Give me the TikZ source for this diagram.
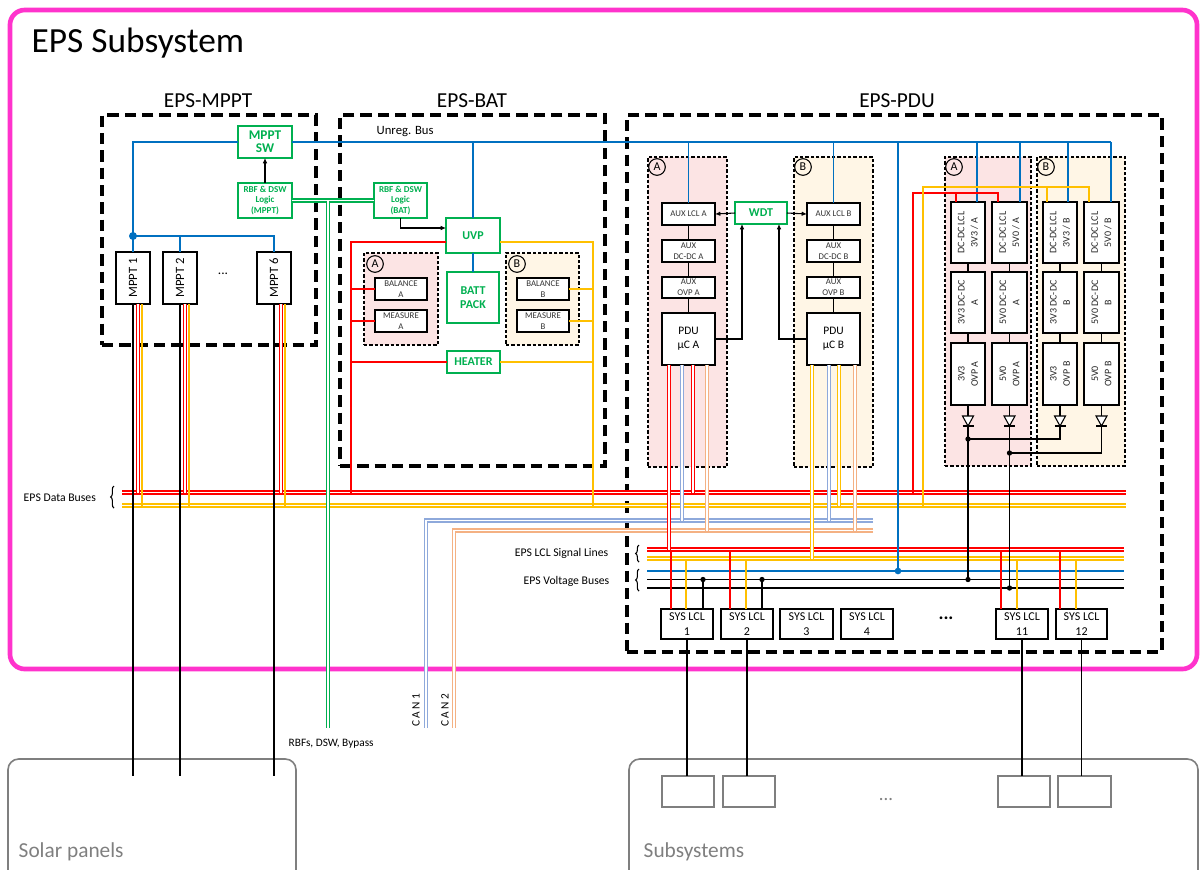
\documentclass[tikz,border=0pt]{standalone}
\usepackage{fontspec}
\setmainfont{Carlito}
\usetikzlibrary{arrows.meta,decorations.pathreplacing,calc}
\definecolor{cred}{HTML}{FF0000}
\definecolor{cyel}{HTML}{FFC000}
\definecolor{cblue}{HTML}{0070C0}
\definecolor{cgreen}{HTML}{00B050}
\definecolor{clb}{HTML}{8EA9DB}
\definecolor{cor}{HTML}{F4B183}
\definecolor{cmag}{HTML}{FF33CC}
\definecolor{cpink}{HTML}{FCE4E4}
\definecolor{ccream}{HTML}{FFF6E6}
\definecolor{cgray}{HTML}{7F7F7F}
\newcommand{\fsz}[2]{\fontsize{#1}{#2}\selectfont}
\newcommand{\mybox}[7]{\node[#1, minimum width={(#5-#3)*0.75pt}, minimum height={(#6-#4)*0.75pt}] (#2) at ({(#3+#5)/2},{(#4+#6)/2}) {#7};}
\newcommand{\diode}[1]{%
  \path (#1.south) ++(0,11) coordinate (#1T) ++(0,10) coordinate (#1B);
  \draw[kl] (#1.south) -- (#1T);
  \draw[kl,fill=white] ($(#1T)+(-5.5,0)$) -- ($(#1T)+(5.5,0)$) -- (#1B) -- cycle;
  \draw[kl] ($(#1B)+(-5.5,0)$) -- ($(#1B)+(5.5,0)$);}
\tikzset{
 blk/.style={draw, line width=0.9pt, fill=white, inner sep=0pt, outer sep=0pt, align=center},
 sblk/.style={blk, font=\fsz{6.6}{8.2}, text=black!80},
 gblk/.style={draw=cgreen, line width=1.6pt, fill=white, text=cgreen, inner sep=0pt, outer sep=0pt, align=center},
 reg/.style={draw, line width=0.8pt, dash pattern=on 2.5pt off 1.5pt, inner sep=0pt, outer sep=0pt},
 big/.style={draw, line width=3pt, dash pattern=on 8.5pt off 4.5pt, inner sep=0pt, outer sep=0pt},
 outerbox/.style={draw=cmag, line width=3.5pt, rounded corners=11pt, inner sep=0pt, outer sep=0pt},
 circ/.style={circle, draw, line width=0.8pt, inner sep=0pt, minimum size=12.5pt, font=\fsz{9}{10}},
 rot/.style={rotate=90, align=center, font=\fsz{7.5}{10}, text=black!85},
 kl/.style={draw=black, line width=0.8pt},
 rl/.style={draw=cred, line width=1pt},
 yl/.style={draw=cyel, line width=1pt},
 bl/.style={draw=cblue, line width=1pt},
 bthick/.style={draw=cblue, line width=2.2pt},
 twin/.style={line width=1pt, double=white, double distance=1.1pt},
 rdbl/.style={twin, draw=cred},
 ydbl/.style={twin, draw=cyel},
 lbdbl/.style={twin, draw=clb},
 ordbl/.style={twin, draw=cor},
 gdbl/.style={twin, draw=cgreen},
 arr/.style={kl, -{Latex[length=4pt,width=3.5pt]}},
 panel/.style={draw=cgray, line width=1.2pt, rounded corners=8pt, inner sep=0pt, outer sep=0pt},
 subb/.style={draw=cgray, line width=1.2pt, fill=white, inner sep=0pt, outer sep=0pt},
 brc/.style={draw=black, line width=0.8pt, decorate, decoration={brace, amplitude=2.5pt}},
 lab/.style={font=\fsz{8.8}{10}},
}
\begin{document}
\begin{tikzpicture}[x=0.75pt,y=-0.75pt]
\useasboundingbox (0,0) rectangle (1204,869);
% ---------- external boxes
\mybox{panel}{solar}{8}{759}{296}{890}{}
\mybox{panel}{subsys}{629}{759}{1198}{890}{}
\node[anchor=base west, font=\fsz{16}{18}, text=cgray] (solart) at (14,857) {Solar panels};
\node[anchor=base west, font=\fsz{16}{18}, text=cgray] (subt) at (639,857) {Subsystems};
\mybox{subb}{u1}{662}{776}{714}{807}{}
\mybox{subb}{u2}{723}{776}{775}{807}{}
\mybox{subb}{u3}{998}{776}{1050}{807}{}
\mybox{subb}{u4}{1058}{776}{1111}{807}{}
\node[font=\fsz{14}{16}, text=cgray] (udots) at (886,800) {...};
% ---------- outer subsystem
\mybox{outerbox}{eps}{10}{10}{1197}{669}{}
\node[anchor=base west, font=\fsz{26.5}{30}] (title) at (27,52) {EPS Subsystem};
% ---------- big dashed boxes
\mybox{big}{mpptbox}{102}{115}{316}{345}{}
\mybox{big}{batbox}{340}{115}{605}{466}{}
\mybox{big}{pdubox}{627}{115}{1162}{652}{}
\node[anchor=base, font=\fsz{16}{18}] (tm) at (208,107) {EPS-MPPT};
\node[anchor=base, font=\fsz{16}{18}] (tb) at (472,107) {EPS-BAT};
\node[anchor=base, font=\fsz{16}{18}] (tp) at (897,107) {EPS-PDU};
% ---------- regions
\mybox{reg, fill=cpink}{rbA}{364}{253}{438}{345}{}
\mybox{reg, fill=ccream}{rbB}{506}{253}{579}{345}{}
\mybox{reg, fill=cpink}{rpA}{648}{157}{727}{467}{}
\mybox{reg, fill=ccream}{rpB}{794}{157}{873}{467}{}
\mybox{reg, fill=cpink}{rqA}{945}{157}{1031}{466}{}
\mybox{reg, fill=ccream}{rqB}{1037}{157}{1125}{466}{}
\node[circ] (cbA) at (375,264) {A};
\node[circ] (cbB) at (517,264) {B};
\node[circ] (cpA) at (657,167) {A};
\node[circ] (cpB) at (803,167) {B};
\node[circ] (cqA) at (954,167) {A};
\node[circ] (cqB) at (1046,167) {B};
% ---------- MPPT blocks
\mybox{gblk, font=\bfseries\fsz{10}{10}}{msw}{238}{126}{292}{158}{MPPT\\SW}
\mybox{gblk, font=\bfseries\fsz{6.8}{8.2}}{rbfm}{238}{183}{292}{218}{RBF \& DSW\\Logic\\(MPPT)}
\mybox{blk, label={[rotate=90,font=\fsz{9.5}{11}]center:MPPT 1}}{mp1}{116}{252}{150}{304}{}
\mybox{blk, label={[rotate=90,font=\fsz{9.5}{11}]center:MPPT 2}}{mp2}{163}{252}{197}{304}{}
\mybox{blk, label={[rotate=90,font=\fsz{9.5}{11}]center:MPPT 6}}{mp6}{257}{252}{291}{304}{}
\node[font=\fsz{10}{12}] (mdots) at (223,274) {...};
% ---------- BAT blocks
\mybox{gblk, font=\bfseries\fsz{6.8}{8.2}}{rbfb}{374}{183}{427}{218}{RBF \& DSW\\Logic\\(BAT)}
\mybox{gblk, font=\bfseries\fsz{9}{10}}{uvp}{446}{218}{500}{253}{UVP}
\mybox{gblk, font=\bfseries\fsz{9}{10.5}}{batt}{447}{272}{499}{323}{BATT\\PACK}
\mybox{gblk, font=\bfseries\fsz{9}{10}}{heat}{447}{351}{500}{373}{HEATER}
\mybox{sblk}{balA}{375}{278}{427}{300}{BALANCE\\A}
\mybox{sblk}{measA}{375}{310}{427}{332}{MEASURE\\A}
\mybox{sblk}{balB}{517}{278}{569}{300}{BALANCE\\B}
\mybox{sblk}{measB}{517}{310}{569}{332}{MEASURE\\B}
\node[anchor=base west, font=\fsz{9.5}{11}] (ubl) at (372,134) {Unreg. Bus};
% ---------- PDU left blocks
\mybox{sblk}{alA}{662}{203}{715}{225}{AUX LCL A}
\mybox{sblk}{adA}{662}{240}{715}{262}{AUX\\DC-DC A}
\mybox{sblk}{aoA}{662}{277}{715}{298}{AUX\\OVP A}
\mybox{blk, font=\fsz{8.6}{10.5}}{pA}{662}{313}{715}{365}{PDU\\µC A}
\mybox{sblk}{alB}{807}{203}{860}{225}{AUX LCL B}
\mybox{sblk}{adB}{807}{240}{860}{262}{AUX\\DC-DC B}
\mybox{sblk}{aoB}{807}{277}{860}{298}{AUX\\OVP B}
\mybox{blk, font=\fsz{8.6}{10.5}}{pB}{807}{313}{860}{365}{PDU\\µC B}
\mybox{gblk, font=\bfseries\fsz{9}{10}}{wdt}{735}{202}{787}{224}{WDT}
% ---------- PDU right blocks
\mybox{blk, label={[rot]center:{DC-DC LCL\\3V3 / A}}}{l3A}{951}{202}{985}{263}{}
\mybox{blk, label={[rot]center:{DC-DC LCL\\5V0 / A}}}{l5A}{992}{202}{1027}{263}{}
\mybox{blk, label={[rot]center:{DC-DC LCL\\3V3 / B}}}{l3B}{1043}{202}{1077}{263}{}
\mybox{blk, label={[rot]center:{DC-DC LCL\\5V0 / B}}}{l5B}{1084}{202}{1119}{263}{}
\mybox{blk, label={[rot]center:{3V3 DC-DC\\A}}}{d3A}{951}{272}{985}{333}{}
\mybox{blk, label={[rot]center:{5V0 DC-DC\\A}}}{d5A}{992}{272}{1027}{333}{}
\mybox{blk, label={[rot]center:{3V3 DC-DC\\B}}}{d3B}{1043}{272}{1077}{333}{}
\mybox{blk, label={[rot]center:{5V0 DC-DC\\B}}}{d5B}{1084}{272}{1119}{333}{}
\mybox{blk, label={[rot]center:{3V3\\OVP A}}}{o3A}{951}{343}{985}{405}{}
\mybox{blk, label={[rot]center:{5V0\\OVP A}}}{o5A}{992}{343}{1027}{405}{}
\mybox{blk, label={[rot]center:{3V3\\OVP B}}}{o3B}{1043}{343}{1077}{405}{}
\mybox{blk, label={[rot]center:{5V0\\OVP B}}}{o5B}{1084}{343}{1119}{405}{}
% ---------- SYS LCL
\mybox{blk, font=\fsz{9}{11}}{s1}{661}{609}{713}{639}{SYS LCL\\1}
\mybox{blk, font=\fsz{9}{11}}{s2}{721}{609}{773}{639}{SYS LCL\\2}
\mybox{blk, font=\fsz{9}{11}}{s3}{780}{609}{833}{639}{SYS LCL\\3}
\mybox{blk, font=\fsz{9}{11}}{s4}{841}{609}{893}{639}{SYS LCL\\4}
\mybox{blk, font=\fsz{9}{11}}{s11}{996}{609}{1048}{639}{SYS LCL\\11}
\mybox{blk, font=\fsz{9}{11}}{s12}{1056}{609}{1107}{639}{SYS LCL\\12}
\node[font=\bfseries\fsz{14}{16}] (sdots) at (946,618) {...};
% ---------- labels
\node[lab, anchor=west] (databl) at (19,497.5) {EPS Data Buses};
\node[lab, anchor=east] (lcll) at (613,553) {EPS LCL Signal Lines};
\node[lab, anchor=east] (vbl) at (614,581) {EPS Voltage Buses};
\node[font=\fsz{8.5}{10}, anchor=west] (rbfl) at (284,744) {RBFs, DSW, Bypass};
\node[rotate=90, font=\fsz{8.5}{10}] (can1l) at (416,710) {C\,A\,N 1};
\node[rotate=90, font=\fsz{8.5}{10}] (can2l) at (445,710) {C\,A\,N 2};
\draw[brc] (114,508) -- (114,486);
\draw[brc] (639,562) -- (639,545);
\draw[brc] (639,591) -- (639,569);
% ---------- bus coordinates
\coordinate (rbL) at (122,492.5); \coordinate (rbR) at (1126,492.5);
\coordinate (ybL) at (122,505.5); \coordinate (ybR) at (1126,505.5);
\coordinate (c1R) at (873,520.5); \coordinate (c1C) at (426,520.5); \coordinate (c1E) at (426,728);
\coordinate (c2R) at (873,530.5); \coordinate (c2C) at (454,530.5); \coordinate (c2E) at (454,728);
\coordinate (lrL) at (647,549.5); \coordinate (lrR) at (1124,549.5);
\coordinate (lyL) at (647,558.5); \coordinate (lyR) at (1124,558.5);
\coordinate (vbL) at (647,571); \coordinate (vbR) at (1124,571);
\coordinate (v1L) at (647,579.5); \coordinate (v1R) at (1124,579.5);
\coordinate (v2L) at (647,588); \coordinate (v2R) at (1124,588);
\coordinate (spT) at (0,776);
\coordinate (ubE) at (1111,142);
% buses
\draw[rdbl] (rbL) -- (rbR);
\draw[ydbl] (ybL) -- (ybR);
\draw[lbdbl] (c1R) -- (c1C) -- (c1E);
\draw[ordbl] (c2R) -- (c2C) -- (c2E);
\draw[rdbl] (lrL) -- (lrR);
\draw[ydbl] (lyL) -- (lyR);
\draw[bl] (vbL) -- (vbR);
\draw[kl, line width=1pt] (v1L) -- (v1R);
\draw[kl, line width=1.4pt] (v2L) -- (v2R);
% ---------- blue unregulated bus
\coordinate (jm) at (133,236);
\draw[bthick] (msw.west) -| (mp1.north);
\draw[bthick] (jm) -| (mp6.north);
\draw[bthick] (mp2.north) -- (mp2.north |- jm);
\fill[cblue] (jm) circle (3pt);
\draw[draw=cblue, line width=1.7pt] (msw.east) -- (ubE);
\draw[bthick] (uvp.north) -- (uvp.north |- ubE);
\draw[bthick] (uvp.south) -- (batt.north);
\draw[bl] (alA.north) -- (alA.north |- ubE);
\draw[bl] (alB.north) -- (alB.north |- ubE);
\foreach \n/\d in {l3A/9,l5A/10.5,l3B/8,l5B/9.5}{
  \path (\n.north) ++(\d,0) coordinate (\n b);
  \draw[bl] (\n b) -- (\n b |- ubE);}
\coordinate (vbj) at (898,571);
\draw[bl] (vbj |- ubE) -- (vbj);
\fill[cblue] (vbj) circle (2.5pt);
% ---------- green RBF lines
\coordinate (gtop) at (328,200.5); \coordinate (gend) at (328,728);
\draw[gdbl] (rbfm.east) -- (rbfb.west);
\draw[gdbl] (gtop) -- (gend);
% ---------- arrows
\draw[arr] (rbfm.north) -- (msw.south);
\draw[arr] (rbfb.south) |- ($(uvp.west)+(0,-7.5)$);
\draw[arr] (wdt.west) -- (alA.east);
\draw[arr] (wdt.east) -- (alB.west);
\draw[arr] (pA.east) -| ($(wdt.south)+(-19,0)$);
\draw[arr] (pB.west) -| ($(wdt.south)+(18,0)$);
% ---------- PDU internal chains
\draw[kl] (alA) -- (adA); \draw[kl] (adA) -- (aoA); \draw[kl] (aoA) -- (pA);
\draw[kl] (alB) -- (adB); \draw[kl] (adB) -- (aoB); \draw[kl] (aoB) -- (pB);
\foreach \c in {3A,5A,3B,5B}{
  \draw[kl] (l\c) -- (d\c); \draw[kl] (d\c) -- (o\c);}
% ---------- MPPT wires
\foreach \m/\a/\b in {mp1/5/9,mp2/5/9,mp6/7/11}{
  \path (\m.south) ++(\a,0) coordinate (\m R);
  \path (\m.south) ++(\b,0) coordinate (\m Y);
  \draw[kl] (\m.south) -- (\m.south |- spT);
  \draw[rdbl, line width=0.8pt, double distance=0.9pt] (\m R) -- (\m R |- rbL);
  \draw[yl] (\m Y) -- (\m Y |- ybL);}
% ---------- BAT red / yellow
\coordinate (batR) at (351,492.5);
\draw[rl] ($(uvp.west)+(0,6.5)$) -| (batR);
\foreach \n in {balA,measA,heat} \draw[rl] (\n.west) -- (\n.west -| batR);
\coordinate (batY) at (593,505.5);
\draw[yl] ($(uvp.east)+(0,6.5)$) -| (batY);
\foreach \n in {balB,measB,heat} \draw[yl] (\n.east) -- (\n.east -| batY);
% ---------- PDU uC lines
\path (pA.south) ++(-19.5,0) coordinate (pA1) (pA.south) ++(-6.5,0) coordinate (pA2)
      (pA.south) ++(4.5,0) coordinate (pA3) (pA.south) ++(18.5,0) coordinate (pA4);
\draw[rdbl] (pA1) -- (pA1 |- lrL);
\draw[lbdbl] (pA2) -- (pA2 |- c1R);
\draw[rdbl] (pA3) -- (pA3 |- rbL);
\draw[ordbl] (pA4) -- (pA4 |- c2R);
\path (pB.south) ++(-21.5,0) coordinate (pB1) (pB.south) ++(-4.5,0) coordinate (pB2)
      (pB.south) ++(5.5,0) coordinate (pB3) (pB.south) ++(21.5,0) coordinate (pB4);
\draw[ydbl] (pB1) -- (pB1 |- lyL);
\draw[lbdbl] (pB2) -- (pB2 |- c1R);
\draw[ydbl] (pB3) -- (pB3 |- ybL);
\draw[ordbl] (pB4) -- (pB4 |- c2R);
% ---------- right feeds
\coordinate (rf0) at (913,492.5);
\path (l3A.north) ++(-12,0) coordinate (l3Ar); \path (l5A.north) ++(-11.5,0) coordinate (l5Ar);
\draw[rl] (rf0) |- ($(l5Ar)+(0,-9)$) -- (l5Ar);
\draw[rl] (l3Ar) -- ++(0,-9);
\coordinate (yf0) at (923,505.5);
\path (l3B.north) ++(-13,0) coordinate (l3By); \path (l5B.north) ++(-12.5,0) coordinate (l5By);
\draw[yl] (yf0) |- ($(l5By)+(0,-15)$) -- (l5By);
\draw[yl] (l3By) -- ++(0,-15);
% ---------- diodes and rails
\diode{o3A} \diode{o5A} \diode{o3B} \diode{o5B}
\coordinate (j3) at (o3AB |- 0,439);
\coordinate (j5) at (o5AB |- 0,453);
\draw[kl, line width=1pt] (o3AB) -- (o3AB |- v1L);
\draw[kl, line width=1pt] (o3BB) |- (j3);
\draw[kl, line width=1pt] (o5AB) -- (o5AB |- v2L);
\draw[kl, line width=1pt] (o5BB) |- (j5);
\fill (j3) circle (2pt); \fill (j5) circle (2pt);
\fill (o3AB |- v1L) circle (2pt); \fill (o5AB |- v2L) circle (2pt);
% ---------- SYS LCL connections
\foreach \n/\r/\yy in {s1/-16/-1, s2/-17/-1, s11/-21/-5, s12/-21.5/-5.5}{
  \path (\n.north) ++(\r,0) coordinate (\n r);
  \path (\n.north) ++(\yy,0) coordinate (\n y);
  \draw[rl] (\n r) -- (\n r |- lrL);
  \draw[yl] (\n y) -- (\n y |- lyL);
  \draw[kl] (\n.south) -- (\n.south |- spT);}
\foreach \n/\k in {s1/16,s2/15}{
  \path (\n.north) ++(\k,0) coordinate (\n k);
  \draw[kl] (\n k) -- (\n k |- v1L);
  \fill (\n k |- v1L) circle (2pt);}
\end{tikzpicture}
\end{document}
